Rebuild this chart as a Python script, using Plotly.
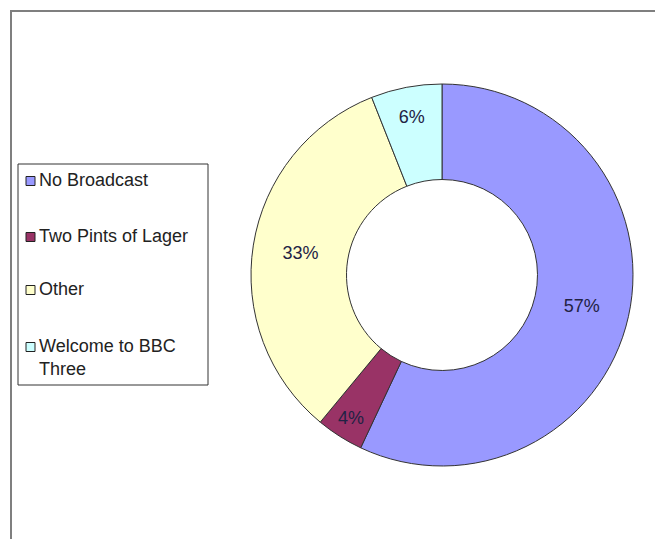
import textwrap
import plotly.graph_objects as go

labels = ["No Broadcast", "Two Pints of Lager", "Other", "Welcome to BBC Three"]
values = [57, 4, 33, 6]
colors = ["#9999FF", "#993366", "#FFFFCC", "#CCFFFF"]

W, H = 663, 539
OFF = 8  # page body margin offset

def px(x):
    return (x - OFF) / W

def py(y):
    return 1 - (y - OFF) / H

FONT = "Liberation Sans, Arial, sans-serif"

fig = go.Figure()
fig.add_trace(go.Pie(
    labels=labels,
    values=values,
    hole=0.5,
    sort=False,
    direction="clockwise",
    rotation=0,
    marker=dict(colors=colors, line=dict(color="#333333", width=1)),
    textinfo="percent",
    textposition="inside",
    insidetextorientation="horizontal",
    textfont=dict(family=FONT, size=18, color="#222244"),
    showlegend=False,
    domain=dict(x=[px(251), px(633)], y=[py(466), py(84)]),
))

shapes = []
annotations = []
# outer chart border
shapes.append(dict(type="rect", xref="paper", yref="paper",
                   x0=px(11), x1=1.05, y0=-0.05, y1=py(11),
                   line=dict(color="#7f7f7f", width=2), fillcolor="rgba(0,0,0,0)"))
# legend box
shapes.append(dict(type="rect", xref="paper", yref="paper",
                   x0=px(18), x1=px(208), y0=py(385), y1=py(164),
                   line=dict(color="#333333", width=1), fillcolor="white"))
item_y = [181, 237, 290, 347]
for lab, col, yc in zip(labels, colors, item_y):
    shapes.append(dict(type="rect", xref="paper", yref="paper",
                       x0=px(26), x1=px(35), y0=py(yc + 4.5), y1=py(yc - 4.5),
                       line=dict(color="#222222", width=1), fillcolor=col))
    txt = "<br>".join(textwrap.wrap(lab, 18))
    annotations.append(dict(xref="paper", yref="paper", x=px(37), y=py(yc - 13),
                            xanchor="left", yanchor="top", align="left",
                            text=txt, showarrow=False,
                            font=dict(family=FONT, size=18, color="#222222")))

fig.update_layout(
    width=W, height=H,
    margin=dict(l=0, r=0, t=0, b=0),
    paper_bgcolor="white",
    plot_bgcolor="white",
    shapes=shapes,
    annotations=annotations,
    uniformtext=dict(minsize=18, mode="show"),
)
fig.write_html("out.html")
